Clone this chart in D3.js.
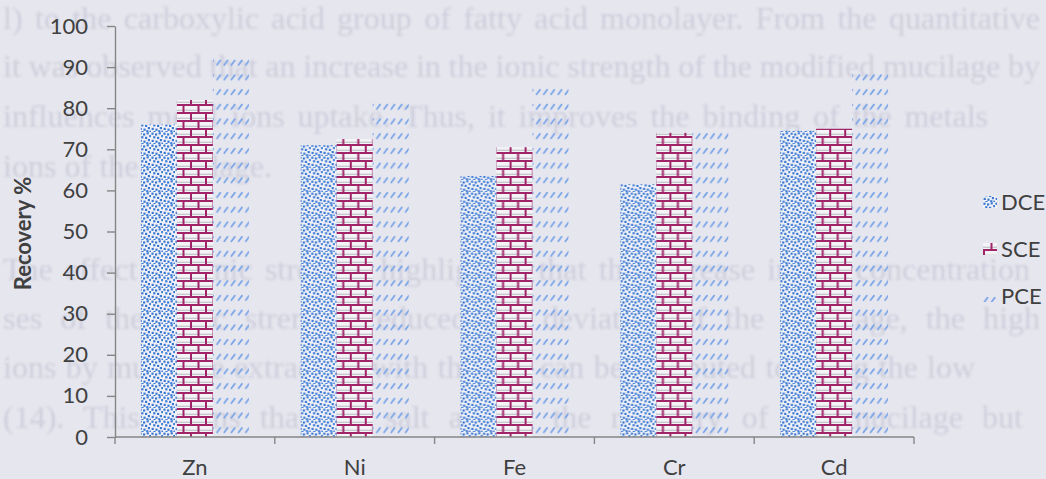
<!DOCTYPE html>
<html>
<head>
<meta charset="utf-8">
<script src="https://cdn.jsdelivr.net/npm/d3@7"></script>
<style>
  html, body { margin: 0; padding: 0; background: #e6e6ef; }
  svg { display: block; }
</style>
</head>
<body>
<svg id="chart" width="1046" height="479"></svg>
<script>
// Recovery (%) of metal ions for the three extraction methods
const categories = ["Zn", "Ni", "Fe", "Cr", "Cd"];
const seriesNames = ["DCE", "SCE", "PCE"];
const dceValues = [76, 71, 63.5, 61.5, 74.5];
const sceValues = [82, 72.5, 70.5, 74, 75];
const pceValues = [92.5, 82, 86, 75, 88.5];
const yTickValues = [0, 10, 20, 30, 40, 50, 60, 70, 80, 90, 100];
const yTitle = "Recovery %";

// Page text printed behind the figure (justified lines)
const pageLines = [
  "l) to the carboxylic acid group of fatty acid monolayer. From the quantitative",
  "it was observed that an increase in the ionic strength of the modified mucilage by",
  "influences metal ions uptake. Thus, it improves the binding of the metals",
  "ions of the mucilage.",
  "The effect of ionic strength highlighted that the increase in the concentration",
  "ses of the ionic strength reduced the deviation of the mucilage, the high",
  "ions by mucilage extraction with the salt can be attributed to using the low",
  "(14). This means that the salt affects the recovery of the mucilage but"
];
const pageLineBaselines = [29, 77, 127, 177, 280, 329, 378, 428];
const pageLineEnds = [1040, 1040, 988, 272, 1030, 1040, 975, 1023];

const W = 1046, H = 479;
const svg = d3.select("#chart");
const defs = svg.append("defs");

// ---- fill patterns ----
// DCE: blue confetti
const confetti = defs.append("pattern")
  .attr("id", "pat-dce").attr("patternUnits", "userSpaceOnUse")
  .attr("width", 12).attr("height", 12);
confetti.append("rect").attr("width", 12).attr("height", 12).attr("fill", "#f1f2f8");
[[0.4, 0.6], [4.0, 1.4], [7.6, 0.2], [10.2, 3.0], [2.2, 4.2], [6.0, 4.8],
 [8.8, 7.0], [0.6, 7.8], [4.4, 8.6], [7.2, 10.2], [10.4, 10.6], [2.4, 11.0]]
  .forEach(([px, py]) => confetti.append("rect")
    .attr("x", px).attr("y", py).attr("width", 2.2).attr("height", 2.2)
    .attr("fill", "#3a78d2"));

// SCE: magenta brick
const brickW = 15, brickH = 8, brickColor = "#a02468";
const brick = defs.append("pattern")
  .attr("id", "pat-sce").attr("patternUnits", "userSpaceOnUse")
  .attr("width", brickW).attr("height", brickH * 2);
brick.append("rect").attr("width", brickW).attr("height", brickH * 2).attr("fill", "#f4f4f7");
brick.append("rect").attr("x", 0).attr("y", 5.6).attr("width", brickW).attr("height", 1.4).attr("fill", "#c8c8d0");
brick.append("rect").attr("x", 0).attr("y", 13.6).attr("width", brickW).attr("height", 1.4).attr("fill", "#c8c8d0");
brick.append("rect").attr("x", 0).attr("y", 0).attr("width", brickW).attr("height", 2).attr("fill", brickColor);
brick.append("rect").attr("x", 0).attr("y", brickH).attr("width", brickW).attr("height", 2).attr("fill", brickColor);
brick.append("rect").attr("x", 0).attr("y", 0).attr("width", 2).attr("height", brickH).attr("fill", brickColor);
brick.append("rect").attr("x", brickW / 2).attr("y", brickH).attr("width", 2).attr("height", brickH).attr("fill", brickColor);

// PCE: rows of short light-blue slashes
const slash = defs.append("pattern")
  .attr("id", "pat-pce").attr("patternUnits", "userSpaceOnUse")
  .attr("width", 7.2).attr("height", 14.7);
slash.append("path").attr("d", "M1.2,6.2 L4.6,1.6")
  .attr("stroke", "#78a3e6").attr("stroke-width", 1.7).attr("stroke-linecap", "round");

// soft blur for the page text
defs.append("filter").attr("id", "soft")
  .attr("x", "-5%").attr("y", "-50%").attr("width", "110%").attr("height", "200%")
  .append("feGaussianBlur").attr("stdDeviation", 1.1);

svg.append("rect").attr("width", W).attr("height", H).attr("fill", "#e6e6ef");

// ---- page text layer ----
const pageText = svg.append("g").attr("filter", "url(#soft)")
  .selectAll("text").data(pageLines).join("text")
  .attr("x", 3)
  .attr("y", (d, i) => pageLineBaselines[i])
  .attr("font-family", "'Liberation Serif', 'DejaVu Serif', serif")
  .attr("font-size", 32)
  .attr("fill", "#4a4a62")
  .attr("fill-opacity", 0.14)
  .text(d => d);
// spread (or tighten) the words so each line is justified to its end position
pageText.each(function (d, i) {
  const natural = this.getComputedTextLength();
  const gaps = (d.match(/ /g) || []).length;
  const extra = (pageLineEnds[i] - 3) - natural;
  if (gaps > 0) d3.select(this).attr("word-spacing", extra / gaps);
});

// ---- scales ----
const x0 = d3.scaleBand().domain(categories).range([115, 914]).paddingInner(0).paddingOuter(0);
const x1 = d3.scaleBand().domain(seriesNames).range([0, x0.bandwidth()]).paddingInner(0).paddingOuter(0.72);
const y = d3.scaleLinear().domain([0, 100]).range([437, 26]);

const series = [
  { name: "DCE", values: dceValues, fill: "url(#pat-dce)" },
  { name: "SCE", values: sceValues, fill: "url(#pat-sce)" },
  { name: "PCE", values: pceValues, fill: "url(#pat-pce)" }
];

// ---- bars ----
const groups = svg.append("g").selectAll("g").data(categories).join("g")
  .attr("transform", c => `translate(${x0(c)},0)`);
groups.selectAll("rect")
  .data((c, ci) => series.map(s => ({ name: s.name, value: s.values[ci], fill: s.fill })))
  .join("rect")
  .attr("x", d => x1(d.name))
  .attr("y", d => y(d.value))
  .attr("width", x1.bandwidth())
  .attr("height", d => y(0) - y(d.value))
  .attr("fill", d => d.fill);

// ---- axes ----
const axisColor = "#868686", textColor = "#404040";
const labelFont = "Lato, 'Open Sans', sans-serif";

const yAxisG = svg.append("g")
  .attr("transform", `translate(${x0.range()[0]},0)`)
  .call(d3.axisLeft(y).tickValues(yTickValues).tickSize(8).tickPadding(19).tickSizeOuter(0));
yAxisG.select(".domain").attr("stroke", axisColor).attr("stroke-width", 1.4);
yAxisG.selectAll(".tick line").attr("stroke", axisColor).attr("stroke-width", 1.4);
yAxisG.selectAll(".tick text")
  .attr("font-family", labelFont).attr("font-size", 22).attr("fill", textColor);

const xAxisG = svg.append("g")
  .attr("transform", `translate(0,${y(0)})`)
  .call(d3.axisBottom(x0).tickSize(0).tickPadding(22));
xAxisG.select(".domain").remove();
xAxisG.selectAll(".tick text")
  .attr("font-family", labelFont).attr("font-size", 22).attr("fill", textColor);
xAxisG.append("line")
  .attr("x1", x0.range()[0]).attr("x2", x0.range()[1])
  .attr("stroke", axisColor).attr("stroke-width", 1.4);
const boundaries = categories.map(c => x0(c)).concat([x0.range()[1]]);
xAxisG.selectAll("line.cat-tick").data(boundaries).join("line")
  .attr("class", "cat-tick")
  .attr("x1", d => d).attr("x2", d => d)
  .attr("y1", 0).attr("y2", 7)
  .attr("stroke", axisColor).attr("stroke-width", 1.4);

// y axis title
svg.append("text")
  .attr("transform", `translate(31,${(y(0) + y(100)) / 2 + 2}) rotate(-90)`)
  .attr("text-anchor", "middle")
  .attr("font-family", labelFont).attr("font-weight", "bold")
  .attr("font-size", 22).attr("fill", textColor)
  .text(yTitle);

// ---- legend ----
const legend = svg.append("g").selectAll("g").data(series).join("g")
  .attr("transform", (d, i) => `translate(983,${202 + i * 47})`);
legend.append("rect")
  .attr("x", 0).attr("y", -6).attr("width", 14).attr("height", 12)
  .attr("fill", d => d.fill);
legend.append("text")
  .attr("x", 18).attr("dy", "0.36em")
  .attr("font-family", labelFont).attr("font-size", 22).attr("fill", textColor)
  .text(d => d.name);
</script>
</body>
</html>
